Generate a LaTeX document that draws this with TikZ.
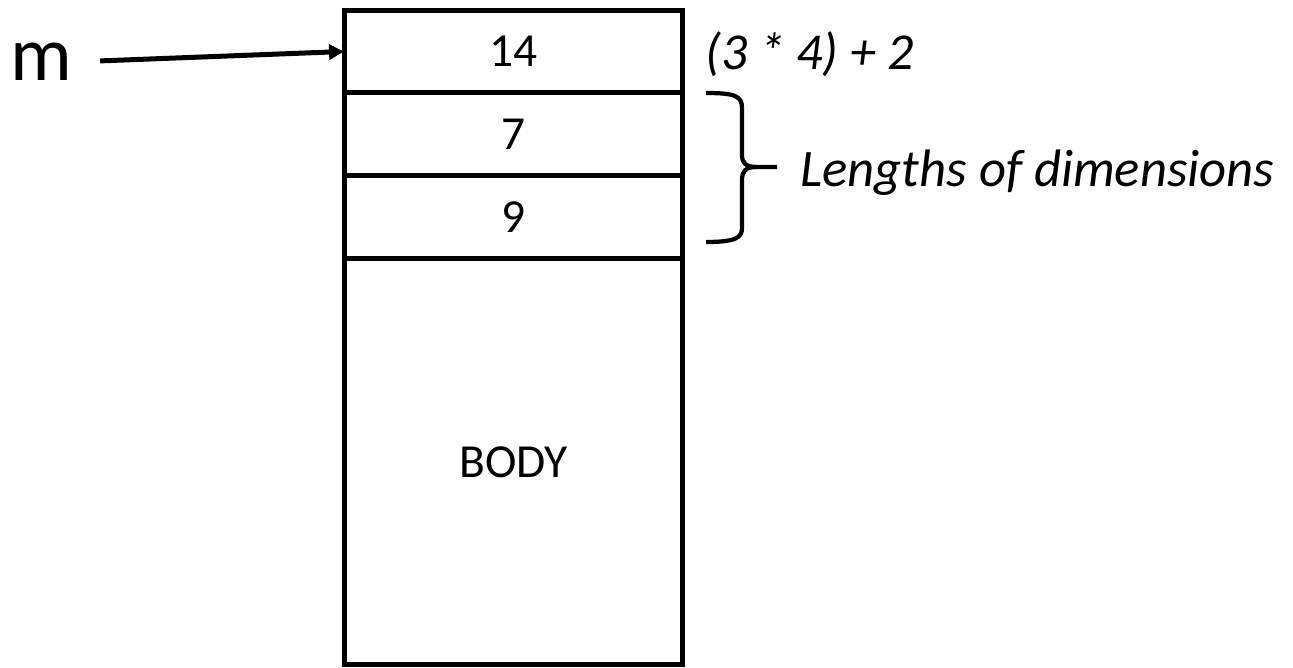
\documentclass[tikz,border=0pt]{standalone}
\usepackage{fontspec}
\setmainfont{Carlito}
\usetikzlibrary{arrows.meta,positioning}

\begin{document}
\begin{tikzpicture}[x=0.02cm,y=-0.02cm,
    cell/.style={draw,line width=0.1cm,outer sep=0pt,minimum width=6.78cm,
      minimum height=1.66cm,font=\fontsize{27}{32}\selectfont},
    note/.style={font=\fontsize{30}{36}\selectfont\itshape,inner sep=0pt},
    ptr/.style={line width=0.1cm,-{Triangle[length=0.3cm,width=0.3cm]}},
    brace/.style={line width=0.085cm,line join=round}]
  \useasboundingbox (0,0) rectangle (1293,668);

  % the array in memory
  \node [cell] (hdr) at (513.5,51.5) {14};
  \node [cell, below=0pt of hdr] (dimA) {7};
  \node [cell, below=0pt of dimA] (dimB) {9};
  \node [cell, below=0pt of dimB, minimum height=8.12cm] (body) {BODY};

  % pointer m
  \node [font=\fontsize{44}{50}\selectfont, inner sep=0pt] (m) at (41,62) {m};
  \draw [ptr, shorten <=0.56cm] (m.east) -- (hdr.west);

  % header size and the dimensions
  \node [note, anchor=base west, font=\fontsize{29.5}{35}\selectfont\itshape] (size) at (705,70) {(3 * 4) + 2};
  \coordinate (tip) at (777,167);
  \draw [brace] (706,93) .. controls (735,93) and (742,96) .. (742,108) -- (742,155)
    .. controls (742,163) and (746,167) .. (756,167) -- (tip);
  \draw [brace] (756,167) .. controls (746,167) and (742,171) .. (742,180) -- (742,228)
    .. controls (742,238) and (735,242) .. (706,242);
  \node [note, anchor=base west] (dimlbl) at (800,187) {Lengths of dimensions};
\end{tikzpicture}
\end{document}
